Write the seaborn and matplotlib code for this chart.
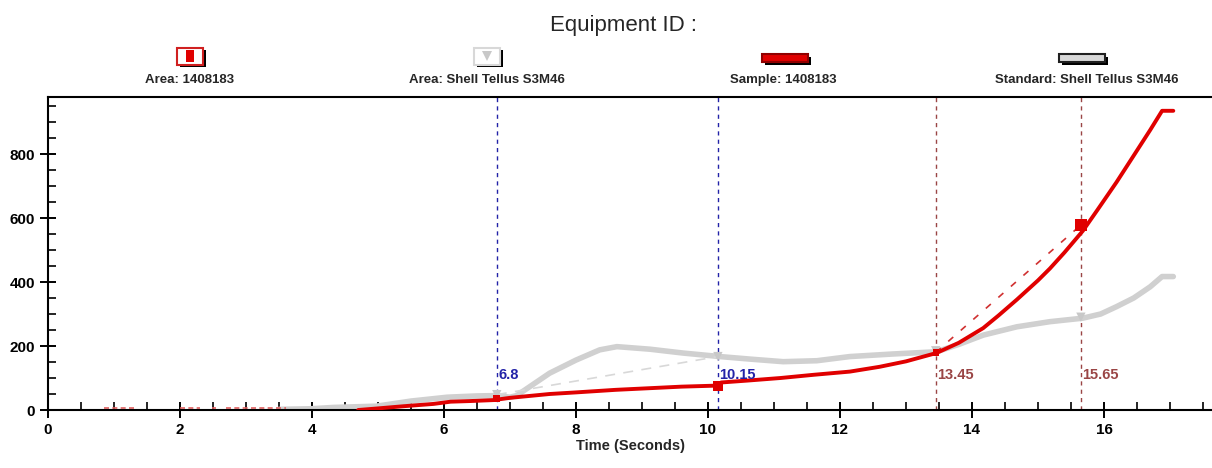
import matplotlib
matplotlib.use("Agg")
import matplotlib.pyplot as plt
import seaborn as sns
import numpy as np
import pandas as pd
from matplotlib.patches import Rectangle, Polygon
from matplotlib.ticker import MultipleLocator

# Sample curve (red)
red_t = [4.7, 5.0, 5.4, 5.84, 6.1, 6.4, 6.75, 7.0, 7.6, 8.0, 8.6, 9.1, 9.6, 10.1,
         10.15, 10.2, 10.6, 11.1, 11.6, 12.15, 12.6, 13.0, 13.46, 13.8, 14.17, 14.4,
         14.68, 15.0, 15.18, 15.4, 15.68, 15.9, 16.19, 16.45, 16.7, 16.88, 17.05]
red_v = [0, 5, 12, 19, 26, 28, 31, 38, 50, 55, 63, 68, 73, 76,
         80, 86, 92, 100, 110, 120, 135, 152, 178, 210, 256, 295,
         345, 405, 442, 492, 560, 625, 712, 795, 875, 935, 935]

# Standard curve (grey)
grey_t = [3.5, 4.0, 4.32, 4.98, 5.5, 6.05, 6.5, 6.8, 7.0, 7.1, 7.35, 7.6, 8.0, 8.36,
          8.62, 9.12, 9.62, 10.18, 10.64, 11.14, 11.65, 12.15, 12.8, 13.46, 13.8,
          14.17, 14.68, 15.18, 15.68, 15.95, 16.19, 16.45, 16.7, 16.88, 17.05]
grey_v = [2, 4, 8, 12, 28, 40, 44, 45, 40, 45, 80, 115, 156, 188,
          198, 190, 178, 167, 159, 151, 154, 167, 175, 182, 205,
          234, 260, 276, 287, 300, 323, 350, 385, 417, 417]

# small red noise dashes near zero
noise_t = [0.85, 1.35, np.nan, 2.0, 2.3, np.nan, 2.48, 2.55, np.nan, 2.7, 3.6]
noise_v = [5, 5, np.nan, 5, 5, np.nan, 5, 5, np.nan, 5, 5]

# marked points
mark_t = [6.8, 10.15, 13.45, 15.65]
mark_lbl = ["6.8", "10.15", "13.45", "15.65"]
sample_at = [35, 76, 180, 578]
standard_at = [48, 167, 185, 290]

legend_lbls = ["Area: 1408183", "Area: Shell Tellus S3M46",
               "Sample: 1408183", "Standard: Shell Tellus S3M46"]

sns.set_style("ticks")
plt.rcParams["font.family"] = ["Liberation Sans", "DejaVu Sans"]

W, H = 1212, 468
fig = plt.figure(figsize=(W / 100, H / 100), dpi=100)
ax = fig.add_axes([48 / W, (H - 410) / H, (W - 48) / W, (410 - 97) / H])


def fx(px):
    return px / W


def fy(py):
    return 1 - py / H


red = "#e00000"
grey = "#d0d0d0"
blue = "#2323a8"
brown = "#9a4545"

sample = pd.DataFrame({"t": red_t, "v": red_v})
standard = pd.DataFrame({"t": grey_t, "v": grey_v})

sns.lineplot(data=standard, x="t", y="v", ax=ax, color=grey, lw=4, zorder=2)
sns.lineplot(data=sample, x="t", y="v", ax=ax, color=red, lw=2.8, zorder=3)
ax.plot(noise_t, noise_v, color="#e06060", lw=1.2, ls=(0, (3, 2)), zorder=2)

# chords between marked points
ax.plot(mark_t[:2], standard_at[:2], color="#d8d8d8", lw=1.2, ls=(0, (6, 5)), zorder=2)
ax.plot(mark_t[2:], sample_at[2:], color="#d03030", lw=1.2, ls=(0, (4, 6)), zorder=2)

for i, (t, lbl) in enumerate(zip(mark_t, mark_lbl)):
    c = blue if i < 2 else brown
    ax.axvline(t, color=c, lw=1, ls=(0, (3, 3)), zorder=1)
    ax.text(t + 0.02, 108, lbl, color=c, fontsize=10.5, fontweight="bold",
            ha="left", va="center")

sns.scatterplot(x=mark_t, y=standard_at, ax=ax, marker="v", color="#c8c8c8",
                s=45, edgecolor="none", zorder=4)
sns.scatterplot(x=mark_t, y=sample_at, ax=ax, marker="s", color=red,
                s=[25, 55, 20, 75], edgecolor="none", zorder=5, legend=False)

ax.set_xlim(0, (W - 48) / 66)
ax.set_ylim(0, 313 / 0.32)
ax.xaxis.set_major_locator(MultipleLocator(2))
ax.xaxis.set_minor_locator(MultipleLocator(0.5))
ax.yaxis.set_major_locator(MultipleLocator(200))
ax.yaxis.set_minor_locator(MultipleLocator(50))
ax.tick_params(which="major", direction="inout", length=11, width=1.4,
               colors="black", labelsize=11, pad=4)
ax.tick_params(which="minor", direction="in", length=6, width=1.2, colors="black")
for lab in ax.get_xticklabels() + ax.get_yticklabels():
    lab.set_fontweight("bold")
for s in ["left", "bottom", "top"]:
    ax.spines[s].set_color("black")
    ax.spines[s].set_linewidth(1.5)
ax.spines["right"].set_visible(False)
ax.set_xlabel("Time (Seconds)", fontsize=10.5, fontweight="bold", labelpad=1)
ax.set_ylabel("")

fig.text(fx(624), fy(25), "Equipment ID :", fontsize=16, ha="center", va="center")

# legend labels and icons
label_x = [190, 487, 783, 1087]
for x, lbl in zip(label_x, legend_lbls):
    fig.text(fx(x), fy(80), lbl, fontsize=9.5, fontweight="bold", ha="center", va="center")


def shadow_box(cx, cy, w, h, face, edge):
    fig.patches.append(Rectangle((fx(cx - w / 2 + 3), fy(cy + h / 2 + 3)), fx(w), h / H,
                                 transform=fig.transFigure, facecolor="black",
                                 edgecolor="none", figure=fig))
    fig.patches.append(Rectangle((fx(cx - w / 2), fy(cy + h / 2)), fx(w), h / H,
                                 transform=fig.transFigure, facecolor=face,
                                 edgecolor=edge, lw=1.5, figure=fig))


shadow_box(190, 56, 26, 17, "white", "#d02020")
fig.patches.append(Rectangle((fx(186), fy(62)), fx(8), 12 / H, transform=fig.transFigure,
                             facecolor=red, edgecolor="none", figure=fig))
shadow_box(487, 56, 26, 17, "white", "#d8d8d8")
fig.patches.append(Polygon([(fx(482), fy(51)), (fx(492), fy(51)), (fx(487), fy(61))],
                           transform=fig.transFigure, facecolor="#c8c8c8",
                           edgecolor="none", figure=fig))
shadow_box(785, 58, 46, 8, red, "#900000")
shadow_box(1082, 58, 46, 8, "#d8d8d8", "#202020")

fig.savefig("out.png", dpi=100)
